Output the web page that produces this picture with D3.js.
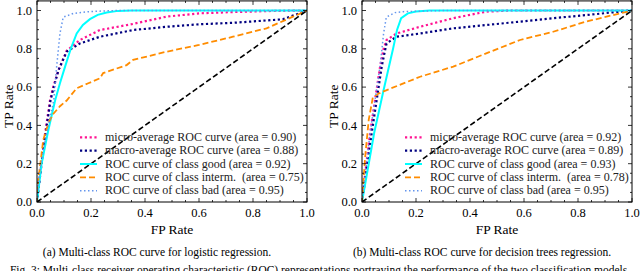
<!DOCTYPE html>
<html><head><meta charset="utf-8">
<script src="https://cdn.jsdelivr.net/npm/d3@7/dist/d3.min.js"></script>
<style>body{margin:0;background:#fff}svg{display:block}text{font-family:"Liberation Serif","DejaVu Serif",serif}</style>
</head><body><svg id="c" width="640" height="271"></svg>
<script>
// ---------- data ----------
const seriesNames = ["micro-average ROC curve", "macro-average ROC curve", "ROC curve of class good", "ROC curve of class interm.", "ROC curve of class bad"];
const seriesColors = ["deeppink", "navy", "aqua", "darkorange", "cornflowerblue"];
const xTicks = [0, 0.2, 0.4, 0.6, 0.8, 1.0];
const yTicks = [0, 0.2, 0.4, 0.6, 0.8, 1.0];
const tickLabels = ["0.0", "0.2", "0.4", "0.6", "0.8", "1.0"];

// logistic regression ROC points [fpr, tpr]
const lrMicro = [[0,0],[0.01,0.12],[0.02,0.24],[0.03,0.36],[0.048,0.53],[0.06,0.6],[0.08,0.69],[0.11,0.79],[0.159,0.846],[0.233,0.898],[0.356,0.93],[0.48,0.968],[0.6,0.985],[0.73,0.992],[0.88,0.998],[1,1]];
const lrMacro = [[0,0],[0.01,0.12],[0.02,0.24],[0.032,0.36],[0.05,0.53],[0.062,0.6],[0.08,0.69],[0.11,0.785],[0.159,0.828],[0.233,0.863],[0.356,0.898],[0.48,0.915],[0.6,0.928],[0.73,0.936],[0.91,0.954],[1,1]];
const lrGood = [[0,0],[0.017,0.2],[0.042,0.376],[0.067,0.53],[0.085,0.62],[0.104,0.707],[0.125,0.8],[0.147,0.88],[0.17,0.925],[0.196,0.955],[0.225,0.977],[0.258,0.99],[0.3,0.998],[0.35,1],[1,1]];
const lrInterm = [[0,0],[0,0.063],[0.011,0.184],[0.023,0.324],[0.035,0.38],[0.045,0.42],[0.06,0.46],[0.085,0.5],[0.11,0.53],[0.147,0.594],[0.19,0.62],[0.233,0.646],[0.245,0.673],[0.332,0.715],[0.356,0.742],[0.48,0.785],[0.6,0.82],[0.726,0.863],[0.85,0.907],[1,1]];
const lrBad = [[0,0],[0.005,0.1],[0.015,0.2],[0.025,0.28],[0.036,0.36],[0.05,0.45],[0.062,0.53],[0.073,0.71],[0.085,0.88],[0.097,0.965],[0.135,0.985],[0.2,0.995],[0.3,1],[1,1]];

// decision trees ROC points [fpr, tpr]
const dtMicro = [[0,0],[0.012,0.15],[0.03,0.36],[0.048,0.53],[0.067,0.707],[0.08,0.8],[0.091,0.846],[0.128,0.88],[0.215,0.915],[0.338,0.96],[0.46,0.994],[0.55,1],[1,1]];
const dtMacro = [[0,0],[0.015,0.15],[0.036,0.36],[0.054,0.53],[0.073,0.707],[0.085,0.79],[0.091,0.828],[0.128,0.863],[0.215,0.88],[0.338,0.907],[0.46,0.924],[0.585,0.942],[0.708,0.96],[0.83,0.976],[0.955,0.994],[1,1]];
const dtGood = [[0,0],[0.045,0.36],[0.08,0.585],[0.115,0.8],[0.13,0.9],[0.145,0.96],[0.17,0.985],[0.2,0.995],[0.25,1],[1,1]];
const dtInterm = [[0,0],[0.012,0.24],[0.025,0.43],[0.04,0.545],[0.06,0.565],[0.08,0.578],[0.215,0.654],[0.338,0.707],[0.46,0.776],[0.585,0.846],[0.708,0.889],[0.83,0.942],[1,1]];
const dtBad = [[0,0],[0.03,0.36],[0.048,0.53],[0.067,0.71],[0.08,0.88],[0.09,0.965],[0.122,0.989],[0.153,0.994],[0.3,1],[1,1]];

const lrAreas = ["0.90", "0.88", "0.92", "0.75", "0.95"];
const dtAreas = ["0.92", "0.89", "0.93", "0.78", "0.95"];
const diagonal = [[0,0],[1,1]];

const captions = ["(a) Multi-class ROC curve for logistic regression.", "(b) Multi-class ROC curve for decision trees regression."];
const figCaption = "Fig. 3: Multi-class receiver operating characteristic (ROC) representations portraying the performance of the two classification models.";

// ---------- drawing ----------
const svg = d3.select("#c");
const styles = [
  {w:2.2, dash:"2.2,2.6"},
  {w:2.2, dash:"2.2,2.6"},
  {w:2.0, dash:null},
  {w:1.8, dash:"6,3"},
  {w:1.5, dash:"1.5,2.5"}
];

function panel(x0, x1, curves, areas, caption) {
  const x = d3.scaleLinear().domain([0,1]).range([x0, x1]);
  const y = d3.scaleLinear().domain([0,1]).range([202, 10.5]);
  const top = y(1.05), bot = y(0);
  const g = svg.append("g");
  const clipId = "clip" + x0;
  svg.append("clipPath").attr("id", clipId).append("rect")
    .attr("x", x0).attr("y", top).attr("width", x1 - x0).attr("height", bot - top);

  const line = d3.line().x(d => x(d[0])).y(d => y(d[1]));
  const cg = g.append("g").attr("clip-path", `url(#${clipId})`);
  curves.forEach((c, i) => {
    cg.append("path").attr("d", line(c)).attr("fill", "none")
      .attr("stroke", seriesColors[i]).attr("stroke-width", styles[i].w)
      .attr("stroke-dasharray", styles[i].dash);
  });
  cg.append("path").attr("d", line(diagonal)).attr("fill", "none")
    .attr("stroke", "#000").attr("stroke-width", 1.6).attr("stroke-dasharray", "5.5,2.8");

  // frame
  g.append("rect").attr("x", x0).attr("y", top).attr("width", x1 - x0).attr("height", bot - top)
    .attr("fill", "none").attr("stroke", "#000").attr("stroke-width", 1);

  // ticks inward on all sides
  const minor = d3.range(0, 1.0501, 0.05);
  const tk = g.append("g").attr("stroke", "#000").attr("stroke-width", 0.8);
  minor.forEach(v => {
    const isMajor = Math.abs(v * 5 - Math.round(v * 5)) < 1e-6;
    const L = isMajor ? 4 : 2;
    if (v <= 1.0001) {
      tk.append("line").attr("x1", x(v)).attr("x2", x(v)).attr("y1", bot).attr("y2", bot - L);
      tk.append("line").attr("x1", x(v)).attr("x2", x(v)).attr("y1", top).attr("y2", top + L);
    }
    tk.append("line").attr("y1", y(v)).attr("y2", y(v)).attr("x1", x0).attr("x2", x0 + L);
    tk.append("line").attr("y1", y(v)).attr("y2", y(v)).attr("x1", x1).attr("x2", x1 - L);
  });

  // tick labels
  xTicks.forEach((v, i) => {
    g.append("text").attr("x", x(v)).attr("y", 216.5).attr("text-anchor", "middle")
      .attr("font-size", 12.5).text(tickLabels[i]);
  });
  yTicks.forEach((v, i) => {
    g.append("text").attr("x", x0 - 5).attr("y", y(v) + 4.3).attr("text-anchor", "end")
      .attr("font-size", 12.5).text(tickLabels[i]);
  });
  g.append("text").attr("x", (x0 + x1) / 2).attr("y", 233.5).attr("text-anchor", "middle")
    .attr("font-size", 13.5).text("FP Rate");
  g.append("text").attr("transform", `translate(${x0 - 24},${y(0.5)}) rotate(-90)`)
    .attr("text-anchor", "middle").attr("font-size", 13.5).text("TP Rate");

  // legend
  const lx = x0 + 43;
  seriesNames.forEach((n, i) => {
    const ly = 137.3 + i * 13.35;
    g.append("line").attr("x1", lx).attr("x2", lx + 17).attr("y1", ly).attr("y2", ly)
      .attr("stroke", seriesColors[i]).attr("stroke-width", styles[i].w)
      .attr("stroke-dasharray", styles[i].dash);
    g.append("text").attr("x", lx + 25).attr("y", ly + 3.7)
      .attr("font-size", 12).attr("fill", "#222")
      .attr("xml:space", "preserve")
      .text(`${n}${i === 3 ? "  " : " "}(area = ${areas[i]})`);
  });

  svg.append("text").attr("x", (x0 + x1) / 2 - 15).attr("y", 255.5).attr("text-anchor", "middle")
    .attr("font-size", 11.5).text(caption);
}

panel(37, 307, [lrMicro, lrMacro, lrGood, lrInterm, lrBad], lrAreas, captions[0]);
panel(362, 632, [dtMicro, dtMacro, dtGood, dtInterm, dtBad], dtAreas, captions[1]);

svg.append("text").attr("x", 10).attr("y", 274)
  .attr("font-size", 11.5).attr("textLength", 620).attr("lengthAdjust", "spacingAndGlyphs").text(figCaption);
</script></body></html>
